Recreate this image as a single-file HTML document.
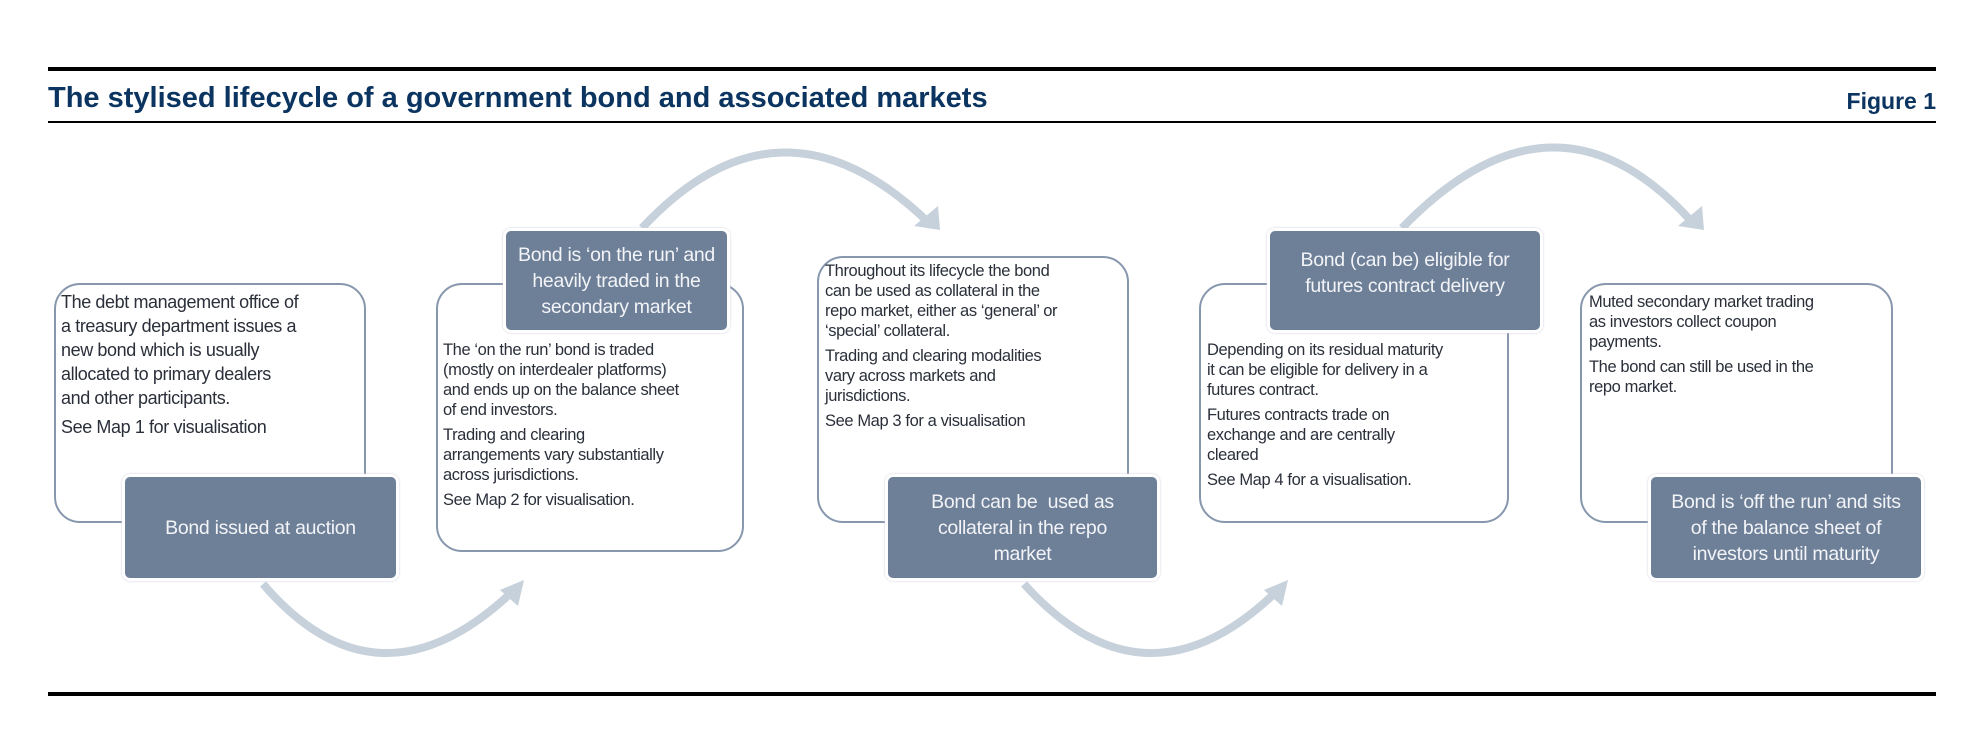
<!DOCTYPE html>
<html><head><meta charset="utf-8"><style>
body{margin:0;width:1974px;height:750px;background:#fff;position:relative;overflow:hidden;font-family:"Liberation Sans",sans-serif}
.ln{position:absolute;left:48px;width:1888px;background:#000}
.t{position:absolute;color:#0b3560;font-weight:bold;white-space:nowrap}
.w{position:absolute;border:2px solid #8797ad;border-radius:26px;background:#fff;box-sizing:border-box}
.d{position:absolute;background:#6e7f98;border:3px solid #fff;border-radius:8px;box-sizing:border-box;color:#f2f4f7;font-size:19.5px;line-height:26px;text-align:center;display:flex;align-items:center;justify-content:center;box-shadow:0 0 2px #ccd;white-space:nowrap;letter-spacing:-0.3px}
.x{position:absolute;color:#2a2f3a;font-size:16.5px;line-height:20px;white-space:nowrap;letter-spacing:-0.4px}
.x p{margin:0 0 5px 0}
</style></head><body>
<div class="ln" style="top:67px;height:4px"></div>
<div class="ln" style="top:121px;height:2px"></div>
<div class="ln" style="top:692px;height:4px"></div>
<div class="t" style="left:48px;top:82px;font-size:29px">The stylised lifecycle of a government bond and associated markets</div>
<div class="t" style="right:38px;top:88px;font-size:23px">Figure 1</div>

<svg width="1974" height="750" style="position:absolute;left:0;top:0">
<g fill="none" stroke="#c6d1db" stroke-width="8">
<path d="M263,584 Q378,718 512,592"/>
<path d="M642,228 Q780,80 928,222"/>
<path d="M1024,584 Q1145,718 1276,592"/>
<path d="M1402,228 Q1555,70 1692,222"/>
</g>
<g fill="#c6d1db">
<polygon points="500,590 524,580 518,606"/>
<polygon points="914,226 940,230 938,206"/>
<polygon points="1264,590 1288,580 1282,606"/>
<polygon points="1678,226 1704,230 1702,206"/>
</g>
</svg>

<div class="w" style="left:54px;top:283px;width:312px;height:240px"></div>
<div class="w" style="left:436px;top:283px;width:308px;height:269px"></div>
<div class="w" style="left:817px;top:256px;width:312px;height:267px"></div>
<div class="w" style="left:1199px;top:283px;width:310px;height:240px"></div>
<div class="w" style="left:1580px;top:283px;width:313px;height:240px"></div>

<div class="x" style="left:61px;top:290px;font-size:18px;line-height:24px"><p>The debt management office of<br>a treasury department issues a<br>new bond which is usually<br>allocated to primary dealers<br>and other participants.</p><p>See Map 1 for visualisation</p></div>
<div class="x" style="left:443px;top:340px"><p>The ‘on the run’ bond is traded<br>(mostly on interdealer platforms)<br>and ends up on the balance sheet<br>of end investors.</p><p>Trading and clearing<br>arrangements vary substantially<br>across jurisdictions.</p><p>See Map 2 for visualisation.</p></div>
<div class="x" style="left:825px;top:261px"><p>Throughout its lifecycle the bond<br>can be used as collateral in the<br>repo market, either as ‘general’ or<br>‘special’ collateral.</p><p>Trading and clearing modalities<br>vary across markets and<br>jurisdictions.</p><p>See Map 3 for a visualisation</p></div>
<div class="x" style="left:1207px;top:340px"><p>Depending on its residual maturity<br>it can be eligible for delivery in a<br>futures contract.</p><p>Futures contracts trade on<br>exchange and are centrally<br>cleared</p><p>See Map 4 for a visualisation.</p></div>
<div class="x" style="left:1589px;top:292px"><p>Muted secondary market trading<br>as investors collect coupon<br>payments.</p><p>The bond can still be used in the<br>repo market.</p></div>

<div class="d" style="left:122px;top:474px;width:277px;height:107px">Bond issued at auction</div>
<div class="d" style="left:503px;top:228px;width:227px;height:105px">Bond is ‘on the run’ and<br>heavily traded in the<br>secondary market</div>
<div class="d" style="left:885px;top:474px;width:275px;height:107px">Bond can be&nbsp; used as<br>collateral in the repo<br>market</div>
<div class="d" style="left:1267px;top:228px;width:276px;height:105px;align-items:flex-start;padding-top:16px">Bond (can be) eligible for<br>futures contract delivery</div>
<div class="d" style="left:1648px;top:474px;width:276px;height:107px">Bond is ‘off the run’ and sits<br>of the balance sheet of<br>investors until maturity</div>
</body></html>
